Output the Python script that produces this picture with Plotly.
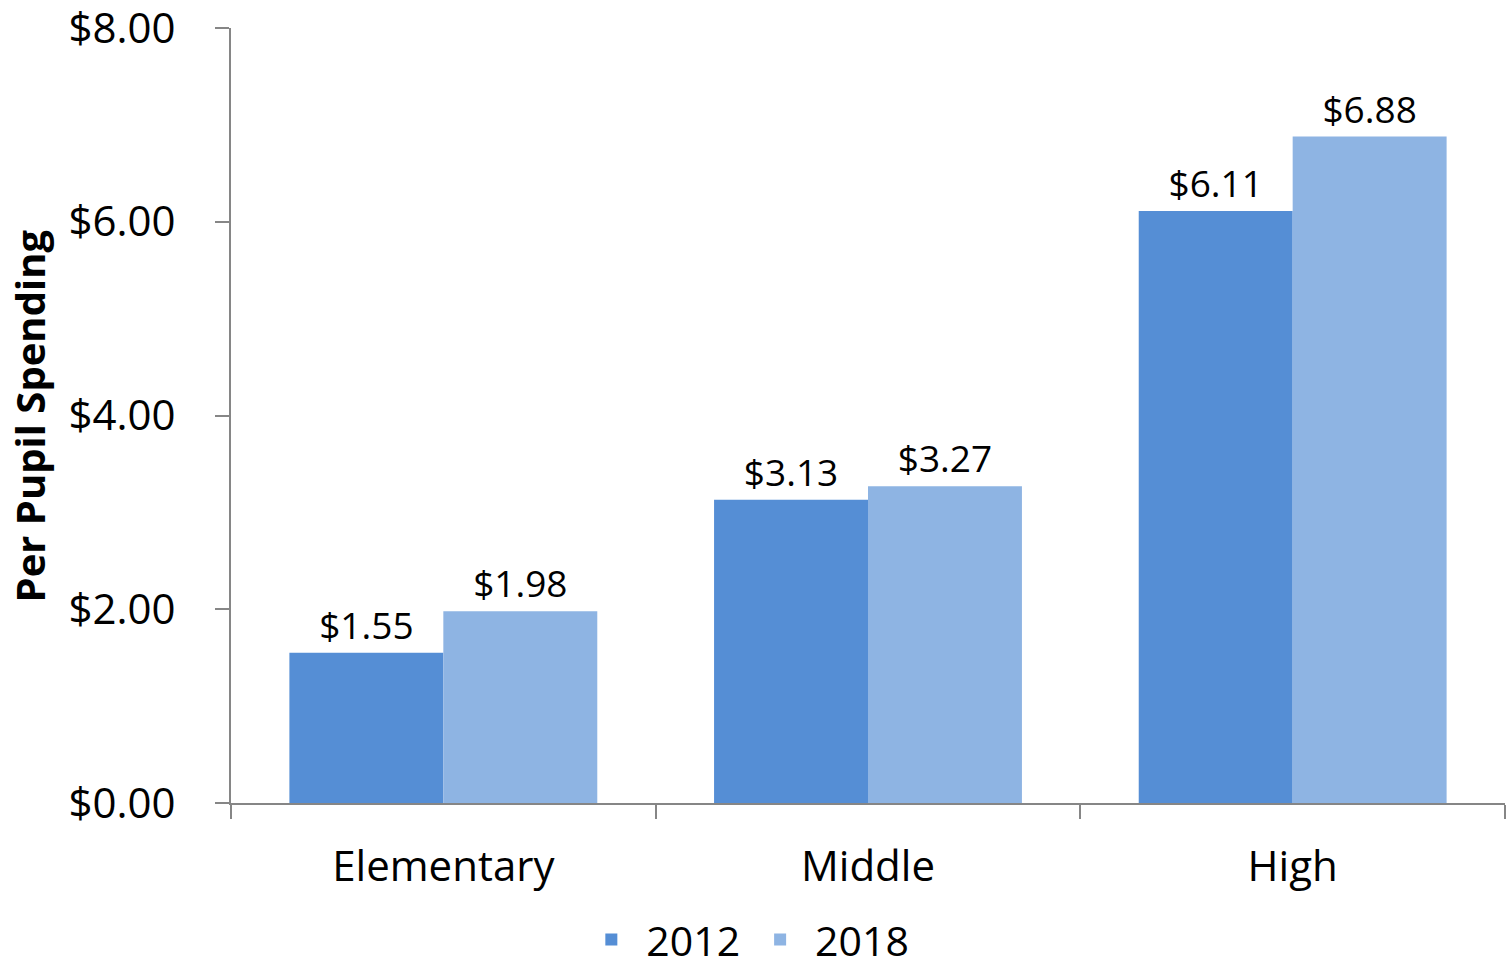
import plotly.graph_objects as go

categories = ["Elementary", "Middle", "High"]
values_2012 = [1.55, 3.13, 6.11]
values_2018 = [1.98, 3.27, 6.88]
series_names = ["2012", "2018"]
y_ticks = [0, 2, 4, 6, 8]
y_tick_labels = ["$0.00", "$2.00", "$4.00", "$6.00", "$8.00"]
y_title = "Per Pupil Spending"

FONT = "Open Sans"
colors = ["#558ED5", "#8EB4E3"]

fig = go.Figure()
for name, vals, col in zip(series_names, [values_2012, values_2018], colors):
    fig.add_trace(go.Bar(
        x=categories, y=vals, name=name,
        marker=dict(color=col, line=dict(width=0)),
        text=[f"${v:.2f}" for v in vals],
        textposition="outside",
        textfont=dict(family=FONT, size=37, color="black"),
        cliponaxis=False,
        hoverinfo="skip",
    ))

fig.update_layout(
    width=1510, height=965,
    barmode="group", bargap=0.275, bargroupgap=0,
    plot_bgcolor="white", paper_bgcolor="white",
    margin=dict(l=231, r=5, t=28, b=162, autoexpand=False),
    font=dict(family=FONT, color="black"),
    legend=dict(orientation="h", x=0.4936, xanchor="center", xref="container",
                y=0.026, yanchor="middle", yref="container",
                font=dict(family=FONT, size=41), traceorder="normal",
                itemwidth=60, tracegroupgap=0),
    uniformtext=dict(mode=False),
    annotations=[dict(
        text=f"<b>{y_title}</b>", xref="paper", yref="paper",
        x=-0.1578, y=0.5, xanchor="center", yanchor="middle",
        textangle=-90, showarrow=False,
        font=dict(family=FONT, size=40, color="black"),
    )],
)
fig.update_xaxes(
    automargin=False,
    showline=True, linecolor="#868686", linewidth=2,
    ticks="outside", tickson="boundaries", ticklen=14, tickcolor="#868686", tickwidth=2,
    ticklabelstandoff=26, ticklabeloverflow="allow",
    tickfont=dict(family=FONT, size=42), showgrid=False,
)
fig.update_yaxes(
    automargin=False,
    range=[0, 8], tickvals=y_ticks, ticktext=y_tick_labels,
    showline=True, linecolor="#868686", linewidth=2,
    ticks="outside", ticklen=14, tickcolor="#868686", tickwidth=2,
    ticklabelstandoff=31, ticklabeloverflow="allow",
    tickfont=dict(family=FONT, size=42), showgrid=False, zeroline=False,
)
fig.write_html("out.html", config={"displayModeBar": False},
               post_script="document.body.style.margin='0';")
